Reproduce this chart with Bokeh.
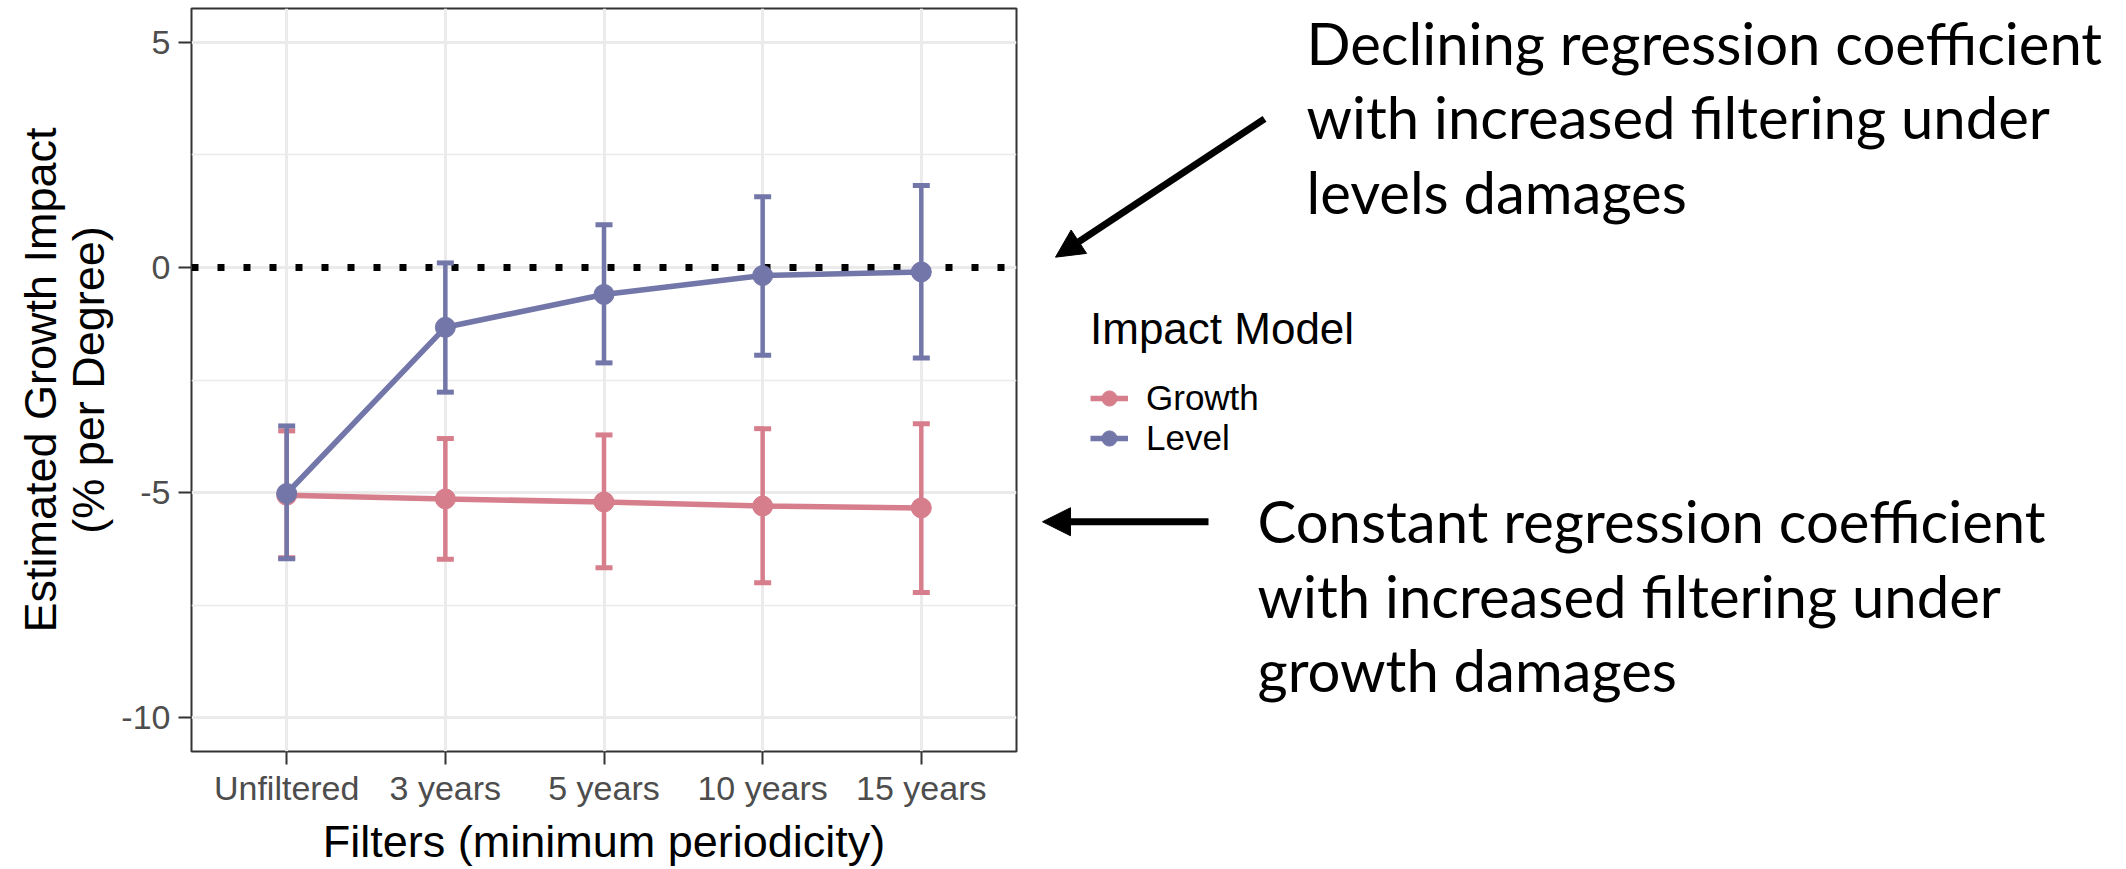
import numpy as np
from bokeh.plotting import figure
from bokeh.models import (ColumnDataSource, FactorRange, Range1d, FixedTicker, Legend,
                          LegendItem, Label, Arrow, NormalHead)
from bokeh.layouts import row
from bokeh.embed import file_html
from bokeh.resources import INLINE

# ---------------- data ----------------
categories = ["Unfiltered", "3 years", "5 years", "10 years", "15 years"]

growth_est = [-5.06, -5.14, -5.21, -5.30, -5.34]
growth_lo = [-6.45, -6.48, -6.67, -7.00, -7.22]
growth_hi = [-3.63, -3.80, -3.72, -3.58, -3.47]

level_est = [-5.02, -1.33, -0.60, -0.18, -0.10]
level_lo = [-6.47, -2.77, -2.12, -1.95, -2.01]
level_hi = [-3.52, 0.10, 0.95, 1.57, 1.82]

y_ticks = [-10, -5, 0, 5]
y_tick_labels = ["-10", "-5", "0", "5"]
y_minor = [-7.5, -2.5, 2.5]

series_names = ["Growth", "Level"]
series_colors = ["#D67E8C", "#7376A8"]

top_note = ["Declining regression coefficient",
            "with increased filtering under",
            "levels damages"]
bottom_note = ["Constant regression coefficient",
               "with increased filtering under",
               "growth damages"]

# ---------------- layout constants ----------------
W_MAIN = 1030
H = 869
TOTAL_W = 2126
B_TOP = 8
B_BOTTOM = 114
FONT = "Liberation Sans"
NOTE_FONT = "Lato"

p = figure(width=W_MAIN, height=H,
           x_range=FactorRange(factors=categories, range_padding=0.1,
                               range_padding_units="absolute"),
           y_range=Range1d(-10.75, 5.75),
           output_backend="svg", toolbar_location=None,
           min_border_left=191, min_border_right=14,
           min_border_top=B_TOP, min_border_bottom=B_BOTTOM)
p.background_fill_color = "white"
p.border_fill_color = "white"
p.outline_line_color = "#333333"
p.outline_line_width = 2

# grids
p.xgrid.grid_line_color = "#EBEBEB"
p.xgrid.grid_line_width = 3
p.ygrid.grid_line_color = "#EBEBEB"
p.ygrid.grid_line_width = 3
p.ygrid.minor_grid_line_color = "#EBEBEB"
p.ygrid.minor_grid_line_width = 1.5
p.yaxis.ticker = FixedTicker(ticks=y_ticks, minor_ticks=y_minor)
p.yaxis.major_label_overrides = dict(zip(y_ticks, y_tick_labels))

for ax in (p.xaxis[0], p.yaxis[0]):
    ax.axis_line_color = None
    ax.major_tick_line_color = "#333333"
    ax.major_tick_line_width = 2
    ax.major_tick_out = 13
    ax.major_tick_in = 0
    ax.minor_tick_line_color = None
    ax.major_label_text_font = FONT
    ax.major_label_text_font_size = "34px"
    ax.major_label_text_color = "#4D4D4D"
    ax.axis_label_text_font = FONT
    ax.axis_label_text_font_size = "45px"
    ax.axis_label_text_font_style = "normal"
    ax.axis_label_text_color = "black"

p.xaxis.axis_label = "Filters (minimum periodicity)"
p.xaxis.major_label_standoff = 4
p.xaxis.axis_label_standoff = 6
p.yaxis.axis_label = "Estimated Growth Impact\n(% per Degree)"
p.yaxis.axis_label_text_line_height = 0.95
p.yaxis.major_label_standoff = 8
p.yaxis.axis_label_standoff = 4

# zero reference line
p.hspan(y=[0], line_color="black", line_width=7, line_dash="7 19")

for name, color, est, lo, hi in zip(series_names, series_colors,
                                    [growth_est, level_est],
                                    [growth_lo, level_lo],
                                    [growth_hi, level_hi]):
    src = ColumnDataSource(dict(x=categories, est=est, lo=lo, hi=hi))
    p.segment(x0="x", y0="lo", x1="x", y1="hi", source=src,
              line_color=color, line_width=4.5)
    p.scatter(x="x", y="hi", marker="dash", size=17, source=src,
              line_color=color, line_width=5)
    p.scatter(x="x", y="lo", marker="dash", size=17, source=src,
              line_color=color, line_width=5)
    p.line(x="x", y="est", source=src, line_color=color, line_width=5.5)
    p.scatter(x="x", y="est", source=src, size=20, fill_color=color,
              line_color=color, line_width=1)

# ---------------- right panel: legend + notes ----------------
# frame of this panel is aligned with the main plot's frame by the row layout,
# so map its y range to page pixels (8 .. 755)
p2 = figure(width=TOTAL_W - W_MAIN, height=H,
            x_range=Range1d(W_MAIN, TOTAL_W), y_range=Range1d(H - B_BOTTOM, B_TOP),
            x_axis_type=None, y_axis_type=None,
            output_backend="svg", toolbar_location=None,
            min_border_left=0, min_border_right=0,
            min_border_top=B_TOP, min_border_bottom=B_BOTTOM)
p2.outline_line_color = None
p2.background_fill_color = "white"
p2.border_fill_color = "white"
p2.grid.visible = False

items = []
for name, color in zip(series_names, series_colors):
    dummy = ColumnDataSource(dict(x=np.array([np.nan]), y=np.array([np.nan])))
    gl = p2.line(x="x", y="y", source=dummy, line_color=color, line_width=5.5)
    gs = p2.scatter(x="x", y="y", source=dummy, size=24, fill_color=color,
                    line_color=color)
    items.append(LegendItem(label=name, renderers=[gl, gs]))

legend = Legend(items=items, location=(60, 293), title="Impact Model",
                title_text_font=FONT, title_text_font_size="44px",
                title_text_font_style="normal", title_text_color="black",
                title_standoff=24,
                label_text_font=FONT, label_text_font_size="35px",
                label_text_color="black",
                label_height=38, glyph_height=38, glyph_width=38,
                label_standoff=18, padding=0, margin=0, spacing=0,
                border_line_color=None, background_fill_alpha=0)
p2.add_layout(legend)

for i, line in enumerate(top_note):
    p2.add_layout(Label(x=1306, y=42 + 75 * i, text=line, text_font=NOTE_FONT,
                        text_font_size="58px", text_color="black",
                        text_baseline="alphabetic", text_align="left"))
for i, line in enumerate(bottom_note):
    p2.add_layout(Label(x=1257, y=523 + 75 * i, text=line, text_font=NOTE_FONT,
                        text_font_size="58px", text_color="black",
                        text_baseline="alphabetic", text_align="left"))

p2.add_layout(Arrow(end=NormalHead(size=28, fill_color="black", line_color="black"),
                    x_start=1264, y_start=119, x_end=1055, y_end=258,
                    line_color="black", line_width=7))
p2.add_layout(Arrow(end=NormalHead(size=28, fill_color="black", line_color="black"),
                    x_start=1208, y_start=524, x_end=1042, y_end=524,
                    line_color="black", line_width=7))

layout = row(p, p2)
open("out.html", "w").write(file_html(layout, INLINE))
